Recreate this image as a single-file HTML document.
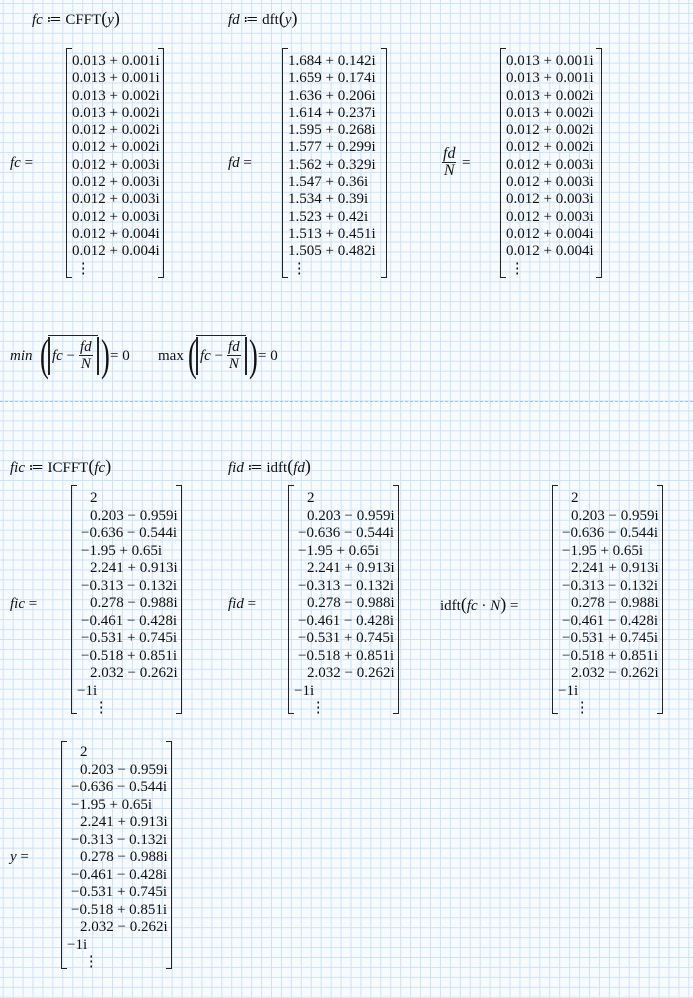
<!DOCTYPE html>
<html><head><meta charset="utf-8"><style>
html,body{margin:0;padding:0}
body{width:693px;height:998px;position:relative;overflow:hidden;
background-color:#f7fbfd;
background-image:linear-gradient(to right,#cfe2f5 1px,transparent 1px),linear-gradient(to bottom,#cfe2f5 1px,transparent 1px);
background-size:9.95px 9.95px;background-position:2.7px 3px;
font-family:"Liberation Serif",serif;font-size:15px;color:#111}
.a{position:absolute;white-space:nowrap;line-height:18px}
i{font-style:italic}
.br{position:absolute;border:1.6px solid #222;width:5px}
.bl{border-right:none}.brr{border-left:none}
.m{position:absolute;white-space:nowrap}
.m div{height:17.3px;line-height:17.3px}
.l div{height:17.5px;line-height:17.5px}
.p{padding-left:9px}
.frac{position:absolute;text-align:center;line-height:16px}
.frac .n{border-bottom:1px solid #222;padding:0 1px}
.dash{position:absolute;left:0;width:693px;top:401px;border-top:1px dashed #9cc3e6}
</style></head><body>

<div class="a" style="left:32px;top:9px"><i>fc</i> ≔ CFFT<span style="font-size:18px">(</span><i>y</i><span style="font-size:18px">)</span></div>
<div class="a" style="left:228px;top:9px"><i>fd</i> ≔ dft<span style="font-size:18px">(</span><i>y</i><span style="font-size:18px">)</span></div>

<div class="a" style="left:10px;top:154px"><i>fc</i> =</div>
<div class="br bl" style="left:66px;top:48px;height:228px"></div>
<div class="br brr" style="left:158px;top:48px;height:228px"></div>
<div class="m" style="left:72px;top:53px"><div>0.013 + 0.001i</div><div>0.013 + 0.001i</div><div>0.013 + 0.002i</div><div>0.013 + 0.002i</div><div>0.012 + 0.002i</div><div>0.012 + 0.002i</div><div>0.012 + 0.003i</div><div>0.012 + 0.003i</div><div>0.012 + 0.003i</div><div>0.012 + 0.003i</div><div>0.012 + 0.004i</div><div>0.012 + 0.004i</div><div>&nbsp;⋮</div></div>

<div class="a" style="left:228px;top:154px"><i>fd</i> =</div>
<div class="br bl" style="left:282px;top:48px;height:228px"></div>
<div class="br brr" style="left:381px;top:48px;height:228px"></div>
<div class="m" style="left:288px;top:53px"><div>1.684 + 0.142i</div><div>1.659 + 0.174i</div><div>1.636 + 0.206i</div><div>1.614 + 0.237i</div><div>1.595 + 0.268i</div><div>1.577 + 0.299i</div><div>1.562 + 0.329i</div><div>1.547 + 0.36i</div><div>1.534 + 0.39i</div><div>1.523 + 0.42i</div><div>1.513 + 0.451i</div><div>1.505 + 0.482i</div><div>&nbsp;⋮</div></div>

<div class="frac" style="left:442px;top:146px;font-size:16px"><div class="n"><i>fd</i></div><div><i>N</i></div></div>
<div class="a" style="left:462px;top:154px">=</div>
<div class="br bl" style="left:500px;top:48px;height:228px"></div>
<div class="br brr" style="left:596px;top:48px;height:228px"></div>
<div class="m" style="left:506px;top:53px"><div>0.013 + 0.001i</div><div>0.013 + 0.001i</div><div>0.013 + 0.002i</div><div>0.013 + 0.002i</div><div>0.012 + 0.002i</div><div>0.012 + 0.002i</div><div>0.012 + 0.003i</div><div>0.012 + 0.003i</div><div>0.012 + 0.003i</div><div>0.012 + 0.003i</div><div>0.012 + 0.004i</div><div>0.012 + 0.004i</div><div>&nbsp;⋮</div></div>

<div class="a" style="left:10px;top:347px"><i>min</i></div>
<div class="a" style="left:40px;top:331px;font-size:44px;line-height:50px;transform:scaleX(0.6);transform-origin:left">(</div>
<div style="position:absolute;left:48px;top:337px;width:1.5px;height:38px;background:#222"></div>
<div style="position:absolute;left:48px;top:335px;width:50px;height:1px;background:#222"></div>
<div class="a" style="left:52px;top:347px"><i>fc</i> −</div>
<div class="frac" style="left:79px;top:339px"><div class="n"><i>fd</i></div><div><i>N</i></div></div>
<div style="position:absolute;left:97px;top:337px;width:1.5px;height:38px;background:#222"></div>
<div class="a" style="left:101px;top:331px;font-size:44px;line-height:50px;transform:scaleX(0.6);transform-origin:left">)</div>
<div class="a" style="left:110px;top:347px">= 0</div>

<div class="a" style="left:158px;top:347px">max</div>
<div class="a" style="left:188px;top:331px;font-size:44px;line-height:50px;transform:scaleX(0.6);transform-origin:left">(</div>
<div style="position:absolute;left:196px;top:337px;width:1.5px;height:38px;background:#222"></div>
<div style="position:absolute;left:196px;top:335px;width:50px;height:1px;background:#222"></div>
<div class="a" style="left:200px;top:347px"><i>fc</i> −</div>
<div class="frac" style="left:227px;top:339px"><div class="n"><i>fd</i></div><div><i>N</i></div></div>
<div style="position:absolute;left:245px;top:337px;width:1.5px;height:38px;background:#222"></div>
<div class="a" style="left:249px;top:331px;font-size:44px;line-height:50px;transform:scaleX(0.6);transform-origin:left">)</div>
<div class="a" style="left:258px;top:347px">= 0</div>

<div class="dash"></div>

<div class="a" style="left:10px;top:457px"><i>fic</i> ≔ ICFFT<span style="font-size:18px">(</span><i>fc</i><span style="font-size:18px">)</span></div>
<div class="a" style="left:228px;top:457px"><i>fid</i> ≔ idft<span style="font-size:18px">(</span><i>fd</i><span style="font-size:18px">)</span></div>

<div class="a" style="left:10px;top:595px"><i>fic</i> =</div>
<div class="br bl" style="left:71px;top:485px;height:227px"></div>
<div class="br brr" style="left:176px;top:485px;height:227px"></div>
<div class="m l" style="left:81px;top:490px"><div class="p">2</div><div class="p">0.203 − 0.959i</div><div>−0.636 − 0.544i</div><div>−1.95 + 0.65i</div><div class="p">2.241 + 0.913i</div><div>−0.313 − 0.132i</div><div class="p">0.278 − 0.988i</div><div>−0.461 − 0.428i</div><div>−0.531 + 0.745i</div><div>−0.518 + 0.851i</div><div class="p">2.032 − 0.262i</div><div style="margin-left:-4px">−1i</div><div class="p">&nbsp;⋮</div></div>

<div class="a" style="left:228px;top:595px"><i>fid</i> =</div>
<div class="br bl" style="left:288px;top:485px;height:227px"></div>
<div class="br brr" style="left:393px;top:485px;height:227px"></div>
<div class="m l" style="left:298px;top:490px"><div class="p">2</div><div class="p">0.203 − 0.959i</div><div>−0.636 − 0.544i</div><div>−1.95 + 0.65i</div><div class="p">2.241 + 0.913i</div><div>−0.313 − 0.132i</div><div class="p">0.278 − 0.988i</div><div>−0.461 − 0.428i</div><div>−0.531 + 0.745i</div><div>−0.518 + 0.851i</div><div class="p">2.032 − 0.262i</div><div style="margin-left:-4px">−1i</div><div class="p">&nbsp;⋮</div></div>

<div class="a" style="left:440px;top:595px">idft<span style="font-size:18px">(</span><i>fc</i> · <i>N</i><span style="font-size:18px">)</span> =</div>
<div class="br bl" style="left:552px;top:485px;height:227px"></div>
<div class="br brr" style="left:657px;top:485px;height:227px"></div>
<div class="m l" style="left:562px;top:490px"><div class="p">2</div><div class="p">0.203 − 0.959i</div><div>−0.636 − 0.544i</div><div>−1.95 + 0.65i</div><div class="p">2.241 + 0.913i</div><div>−0.313 − 0.132i</div><div class="p">0.278 − 0.988i</div><div>−0.461 − 0.428i</div><div>−0.531 + 0.745i</div><div>−0.518 + 0.851i</div><div class="p">2.032 − 0.262i</div><div style="margin-left:-4px">−1i</div><div class="p">&nbsp;⋮</div></div>

<div class="a" style="left:10px;top:848px"><i>y</i> =</div>
<div class="br bl" style="left:61px;top:741px;height:226px"></div>
<div class="br brr" style="left:166px;top:741px;height:226px"></div>
<div class="m l" style="left:71px;top:744px"><div class="p">2</div><div class="p">0.203 − 0.959i</div><div>−0.636 − 0.544i</div><div>−1.95 + 0.65i</div><div class="p">2.241 + 0.913i</div><div>−0.313 − 0.132i</div><div class="p">0.278 − 0.988i</div><div>−0.461 − 0.428i</div><div>−0.531 + 0.745i</div><div>−0.518 + 0.851i</div><div class="p">2.032 − 0.262i</div><div style="margin-left:-4px">−1i</div><div class="p">&nbsp;⋮</div></div>

</body></html>
